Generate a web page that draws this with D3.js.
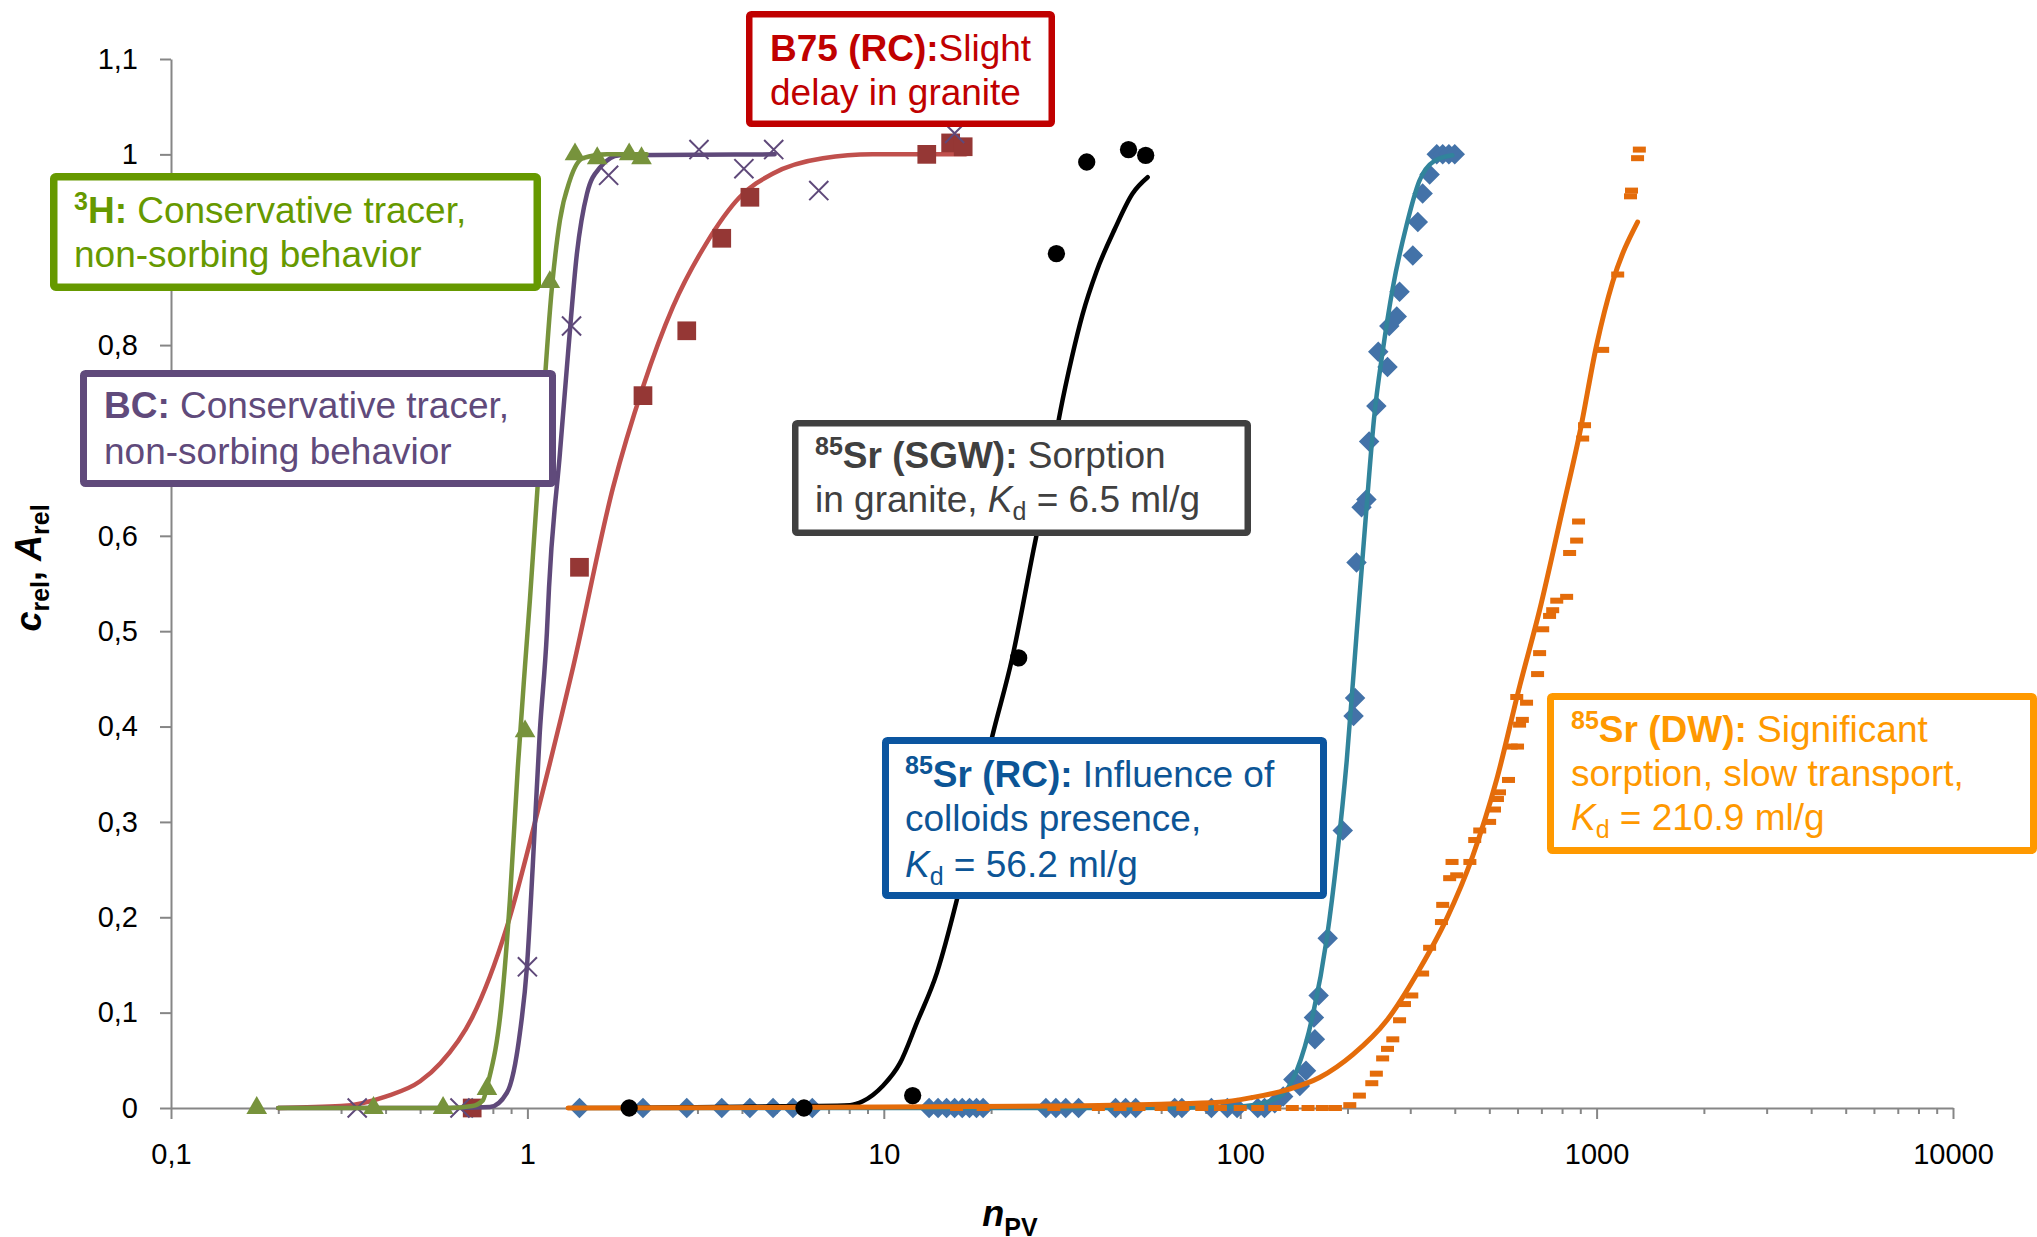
<!DOCTYPE html>
<html>
<head>
<meta charset="utf-8">
<script src="https://cdn.jsdelivr.net/npm/d3@7"></script>
<style>
  body { margin: 0; background: #fff; }
  svg { display: block; font-family: "Liberation Sans", Arial, sans-serif; }
</style>
</head>
<body>
<div id="chart"></div>
<script>
// breakthrough curves, values: [nPV, crel]
const h3Points = [[0.174,0],[0.37,0],[0.58,0],[0.77,0.02],[0.985,0.395],[1.156,0.866],
  [1.36,1.0],[1.57,0.996],[1.93,1.0],[2.09,0.996]];
const h3Fit = [[0.2,0],[0.6,0],[0.70,0.002],[0.75,0.008],[0.775,0.026],[0.848,0.113],[0.893,0.218],
  [0.94,0.357],[0.984,0.462],[1.016,0.532],[1.084,0.687],[1.172,0.861],[1.234,0.931],
  [1.316,0.973],[1.431,0.996],[1.672,1.0],[2.16,1.0]];

const bcPoints = [[0.333,0],[0.647,0],[1.0,0.148],[1.33,0.82],[1.69,0.978],[3.03,1.005],
  [4.05,0.985],[4.91,1.005],[6.57,0.962],[15.8,1.022]];
const bcFit = [[0.2,0],[0.6,0],[0.785,0.001],[0.876,0.016],[0.953,0.079],[0.997,0.148],
  [1.035,0.253],[1.083,0.393],[1.134,0.498],[1.15,0.546],[1.234,0.687],[1.30,0.791],
  [1.377,0.896],[1.47,0.959],[1.597,0.986],[1.816,0.999],[4.94,1.0]];

const b75Points = [[0.70,0],[1.40,0.567],[2.11,0.747],[2.80,0.815],[3.51,0.912],[4.21,0.955],
  [13.2,1.0],[15.4,1.012],[16.7,1.008]];
const b75Fit = [[0.2,0],[0.3,0.002],[0.4,0.012],[0.5,0.028],[0.57,0.047],[0.70,0.095],[0.876,0.19],
  [1.084,0.32],[1.343,0.462],[1.74,0.651],[2.11,0.756],[2.56,0.84],[3.18,0.907],[3.94,0.955],
  [4.89,0.98],[6.75,0.996],[9.3,1.0],[17,1.0]];

const sgwPoints = [[1.93,0],[5.97,0],[12.05,0.013],[23.9,0.472],[30.5,0.896],[37.1,0.992],
  [48.6,1.005],[54.3,0.999]];
const sgwFit = [[1.9,0],[6.05,0.002],[8.04,0.003],[8.73,0.007],[9.93,0.023],[11.1,0.047],
  [12.4,0.09],[14.1,0.142],[16.0,0.217],[20.1,0.388],[22.9,0.471],[26.3,0.585],[29.4,0.675],
  [31.3,0.731],[33.7,0.787],[36.1,0.832],[39.5,0.877],[44.5,0.922],[49.9,0.959],[55,0.976]];

const rcPoints = [[0.7,0],[1.40,0],[2.11,0],[2.80,0],[3.51,0],[4.21,0],[4.89,0],[5.56,0],[6.3,0],
  [13.4,0],[14.2,0],[15.0,0],[15.8,0],[16.6,0],[17.4,0],[18.2,0],[19.0,0],
  [28.5,0],[30.4,0],[32.4,0],[35.2,0],[44.7,0],[47.7,0],[50.9,0],[65.5,0],[68.6,0],
  [83,0],[92,0],[98,0],[112,0],[117,0],[125,0.005],[132,0.012],[141,0.03],[147,0.023],
  [153,0.039],[162,0.072],[161,0.095],[166,0.118],[176,0.178],[194,0.291],[208,0.411],
  [210,0.43],[212,0.572],[219,0.63],[226,0.638],[230,0.699],[241,0.736],[259,0.777],
  [244,0.793],[262,0.82],[275,0.83],[280,0.856],[305,0.894],[315,0.929],[325,0.959],
  [340,0.979],[356,1.0],[370,1.0],[385,1.0],[400,1.0]];
const rcFit = [[1.4,0],[50,0],[90,0.001],[108,0.003],[129,0.012],[144,0.039],[160,0.098],
  [175,0.178],[187,0.264],[199,0.364],[212,0.496],[226,0.628],[238,0.727],[251,0.793],
  [268,0.86],[293,0.926],[318,0.972],[350,0.993],[394,0.999]];

const dwPoints = [[16,0],[19,0],[30,0],[40,0],[46,0],[52,0],[60,0],[69,0],[78,0],[88,0],
  [100,0],[112,0],[125,0],[140,0],[155,0],[170,0],[185,0],[203,0.003],[216,0.013],
  [234,0.026],[241,0.036],[251,0.052],[259,0.062],[268,0.072],[280,0.092],[289,0.109],
  [303,0.118],[325,0.141],[340,0.168],[367,0.195],[370,0.213],[387,0.241],[393,0.258],
  [405,0.244],[441,0.258],[455,0.281],[470,0.291],[501,0.3],[517,0.313],[527,0.324],
  [534,0.331],[566,0.344],[576,0.379],[600,0.379],[608,0.402],[619,0.407],[636,0.425],
  [597,0.431],[683,0.455],[692,0.477],[706,0.502],[738,0.516],[753,0.522],[773,0.532],
  [824,0.536],[840,0.582],[879,0.595],[890,0.615],[914,0.702],[925,0.716],[1040,0.795],
  [1146,0.874],[1245,0.956],[1253,0.962],[1303,0.996],[1318,1.005]];
const dwFit = [[1.3,0],[10,0.001],[30,0.002],[60,0.004],[87.5,0.006],[108,0.011],[135,0.019],
  [167,0.032],[207,0.056],[258,0.092],[318,0.145],[379,0.198],[449,0.264],[524,0.344],
  [608,0.442],[692,0.522],[803,0.628],[896,0.707],[1000,0.80],[1109,0.866],[1303,0.929]];

const xTicks = [0.1, 1, 10, 100, 1000, 10000];
const yTicks = [0, 0.1, 0.2, 0.3, 0.4, 0.5, 0.6, 0.7, 0.8, 0.9, 1, 1.1];

// annotation boxes: [left, top, right, bottom] in px, border width, colour, text lines
const notes = [
  {box: [50, 173, 541, 291], w: 7.5, color: "#669900", tx: 74, base: [223, 267],
   lines: [[{t: "3", b: 1, sup: 1}, {t: "H:", b: 1}, {t: " Conservative tracer,"}],
           [{t: "non-sorbing behavior"}]]},
  {box: [80, 370, 556, 487], w: 7, color: "#604A7B", tx: 104, base: [418, 464],
   lines: [[{t: "BC:", b: 1}, {t: " Conservative tracer,"}], [{t: "non-sorbing behavior"}]]},
  {box: [746, 11, 1055, 127], w: 6.5, color: "#C00000", tx: 770, base: [61, 105],
   lines: [[{t: "B75 (RC):", b: 1}, {t: "Slight"}], [{t: "delay in granite"}]]},
  {box: [792, 420, 1251, 536], w: 6.5, color: "#404040", tx: 815, base: [468, 512],
   lines: [[{t: "85", b: 1, sup: 1}, {t: "Sr (SGW):", b: 1}, {t: " Sorption"}],
           [{t: "in granite, "}, {t: "K", i: 1}, {t: "d", sub: 1}, {t: " = 6.5 ml/g"}]]},
  {box: [882, 737, 1327, 899], w: 7, color: "#0B55A0", text: "#0C5596", tx: 905, base: [787, 831, 877],
   lines: [[{t: "85", b: 1, sup: 1}, {t: "Sr (RC):", b: 1}, {t: " Influence of"}],
           [{t: "colloids presence,"}],
           [{t: "K", i: 1}, {t: "d", sub: 1}, {t: " = 56.2 ml/g"}]]},
  {box: [1547, 693, 2037, 854], w: 7, color: "#FF9900", tx: 1571, base: [742, 786, 830],
   lines: [[{t: "85", b: 1, sup: 1}, {t: "Sr (DW):", b: 1}, {t: " Significant"}],
           [{t: "sorption, slow transport,"}],
           [{t: "K", i: 1}, {t: "d", sub: 1}, {t: " = 210.9 ml/g"}]]}
];

const width = 2037, height = 1237;
const margin = {top: 59, right: 84, bottom: 129, left: 171};

const svg = d3.select("#chart").append("svg")
  .attr("width", width)
  .attr("height", height);

const x = d3.scaleLog()
  .domain([0.1, 10000])
  .range([margin.left, width - margin.right]);

const y = d3.scaleLinear()
  .domain([0, 1.1])
  .range([height - margin.bottom, margin.top]);

const comma = d => String(+d.toFixed(1)).replace(".", ",");

// axes
const minor = x.ticks().filter(v => !xTicks.includes(v));

svg.append("g")
  .attr("transform", `translate(0,${y(0)})`)
  .call(d3.axisBottom(x).tickValues(minor).tickSize(6).tickFormat(""))
  .call(g => g.select(".domain").remove())
  .call(g => g.selectAll("line").attr("stroke", "#868686").attr("stroke-width", 2));

svg.append("g")
  .attr("transform", `translate(0,${y(0)})`)
  .call(d3.axisBottom(x).tickValues(xTicks).tickSize(11).tickSizeOuter(0).tickPadding(24)
    .tickFormat(comma))
  .call(g => g.select(".domain").attr("stroke", "#868686").attr("stroke-width", 2))
  .call(g => g.selectAll("line").attr("stroke", "#868686").attr("stroke-width", 2))
  .call(g => g.selectAll("text").attr("font-size", 29).attr("fill", "#000")
    .attr("font-family", "Liberation Sans, Arial, sans-serif"));

svg.append("g")
  .attr("transform", `translate(${x(0.1)},0)`)
  .call(d3.axisLeft(y).tickValues(yTicks).tickSize(11).tickSizeOuter(0).tickPadding(22)
    .tickFormat(comma))
  .call(g => g.select(".domain").attr("stroke", "#868686").attr("stroke-width", 2))
  .call(g => g.selectAll("line").attr("stroke", "#868686").attr("stroke-width", 2))
  .call(g => g.selectAll("text").attr("font-size", 29).attr("fill", "#000")
    .attr("font-family", "Liberation Sans, Arial, sans-serif"));

// axis titles
const yTitle = svg.append("text")
  .attr("transform", "translate(41,568) rotate(-90)")
  .attr("text-anchor", "middle")
  .attr("font-weight", "bold")
  .attr("font-size", 36);
yTitle.append("tspan").attr("font-style", "italic").text("c");
yTitle.append("tspan").attr("font-size", 25).attr("dy", 8).text("rel");
yTitle.append("tspan").attr("dy", -8).text(", ");
yTitle.append("tspan").attr("font-style", "italic").text("A");
yTitle.append("tspan").attr("font-size", 25).attr("dy", 8).text("rel");

const xTitle = svg.append("text")
  .attr("x", 1010)
  .attr("y", 1226)
  .attr("text-anchor", "middle")
  .attr("font-weight", "bold")
  .attr("font-size", 36);
xTitle.append("tspan").attr("font-style", "italic").text("n");
xTitle.append("tspan").attr("font-size", 25).attr("dy", 10).text("PV");

// series
const line = d3.line()
  .curve(d3.curveMonotoneX)
  .x(d => x(d[0]))
  .y(d => y(d[1]));

function drawFit(data, color, w) {
  svg.append("path")
    .datum(data)
    .attr("fill", "none")
    .attr("stroke", color)
    .attr("stroke-width", w)
    .attr("stroke-linejoin", "round")
    .attr("stroke-linecap", "round")
    .attr("d", line);
}

function drawSymbols(data, type, size, color, opts = {}) {
  svg.append("g")
    .selectAll("path")
    .data(data)
    .join("path")
      .attr("transform", d => `translate(${x(d[0])},${y(d[1])})` + (opts.rotate ? ` rotate(${opts.rotate})` : ""))
      .attr("d", d3.symbol(type, size))
      .attr("fill", opts.stroke ? "none" : color)
      .attr("stroke", opts.stroke ? color : "none")
      .attr("stroke-width", opts.stroke || 0);
}

// 85Sr (RC)
drawSymbols(rcPoints, d3.symbolSquare, 210, "#4372A8", {rotate: 45});
drawFit(rcFit, "#31849B", 4.5);

// 85Sr (DW)
svg.append("g")
  .attr("fill", "#E46C0A")
  .selectAll("rect")
  .data(dwPoints)
  .join("rect")
    .attr("x", d => x(d[0]) - 6.5)
    .attr("y", d => y(d[1]) - 3)
    .attr("width", 13)
    .attr("height", 6);

// 85Sr (SGW) + DW fit
drawFit(sgwFit, "#000", 4.5);
drawFit(dwFit, "#E46C0A", 5);
drawSymbols(sgwPoints, d3.symbolCircle, 235, "#000");

// B75
drawFit(b75Fit, "#C0504D", 4.5);
drawSymbols(b75Points, d3.symbolSquare, 350, "#953735");

// BC
drawFit(bcFit, "#5F497A", 4.5);
drawSymbols(bcPoints, d3.symbolTimes, 240, "#5F497A", {stroke: 2});

// 3H
drawFit(h3Fit, "#77933C", 4.5);
drawSymbols(h3Points, d3.symbolTriangle, 185, "#77933C");

// annotation boxes
notes.forEach(n => {
  const [l, t, r, b] = n.box;
  svg.append("rect")
    .attr("x", l + n.w / 2)
    .attr("y", t + n.w / 2)
    .attr("width", r - l - n.w)
    .attr("height", b - t - n.w)
    .attr("rx", 2)
    .attr("fill", "#fff")
    .attr("stroke", n.color)
    .attr("stroke-width", n.w);

  n.lines.forEach((segs, i) => {
    const txt = svg.append("text")
      .attr("x", n.tx)
      .attr("y", n.base[i])
      .attr("font-size", 37)
      .attr("fill", n.text || n.color);
    let shift = 0;
    segs.forEach(s => {
      const target = s.sup ? -13 : s.sub ? 8 : 0;
      const ts = txt.append("tspan")
        .attr("dy", target - shift)
        .text(s.t);
      shift = target;
      if (s.b) ts.attr("font-weight", "bold");
      if (s.i) ts.attr("font-style", "italic");
      if (s.sup || s.sub) ts.attr("font-size", 25);
    });
  });
});
</script>
</body>
</html>
